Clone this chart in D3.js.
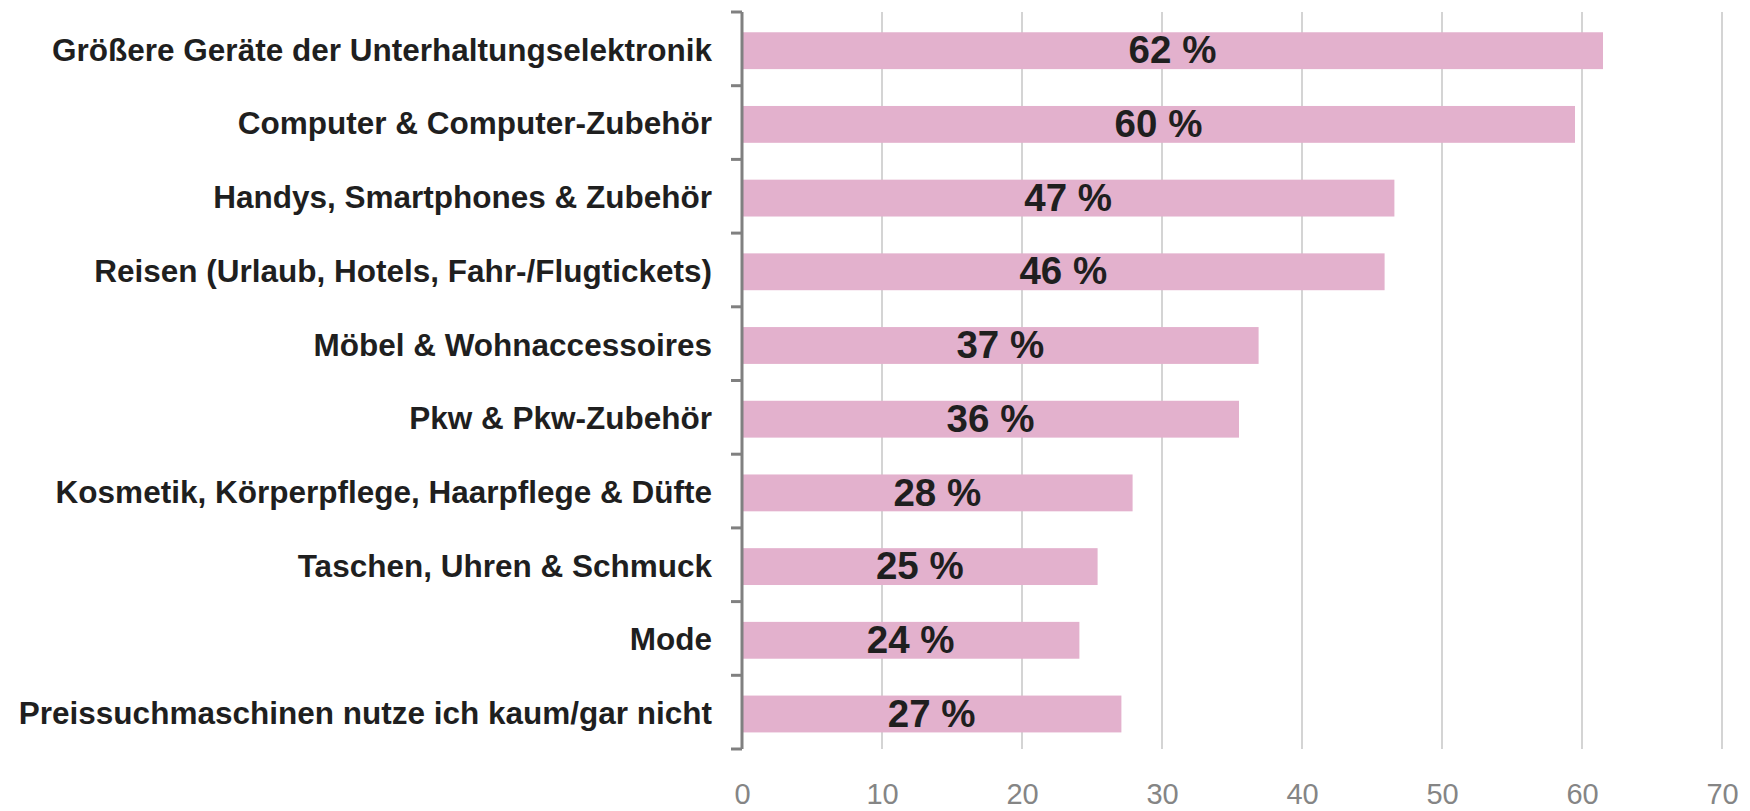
<!DOCTYPE html>
<html>
<head>
<meta charset="utf-8">
<script src="https://cdn.jsdelivr.net/npm/d3@7"></script>
<style>
  body { margin: 0; background: #fff; }
  #chart-container svg { display: block; }
</style>
</head>
<body>
<div id="chart-container"></div>
<script>
// Data
const categories = [
    'Größere Geräte der Unterhaltungselektronik',
    'Computer & Computer-Zubehör',
    'Handys, Smartphones & Zubehör',
    'Reisen (Urlaub, Hotels, Fahr-/Flugtickets)',
    'Möbel & Wohnaccessoires',
    'Pkw & Pkw-Zubehör',
    'Kosmetik, Körperpflege, Haarpflege & Düfte',
    'Taschen, Uhren & Schmuck',
    'Mode',
    'Preissuchmaschinen nutze ich kaum/gar nicht'
];
const values = [61.5, 59.5, 46.6, 45.9, 36.9, 35.5, 27.9, 25.4, 24.1, 27.1];
const valueLabels = ['62 %', '60 %', '47 %', '46 %', '37 %', '36 %', '28 %', '25 %', '24 %', '27 %'];
const xTicks = [0, 10, 20, 30, 40, 50, 60, 70];

const drawChart = () => {
    const width = 1750;
    const height = 811;

    // Margin conventions
    const margin = { top: 12, right: 28, bottom: 62, left: 742 };

    const data = categories.map((name, i) => ({ name, value: values[i], label: valueLabels[i] }));

    const x = d3.scaleLinear()
        .domain([0, 70])
        .range([margin.left, width - margin.right]);

    const y = d3.scaleBand()
        .domain(categories)
        .range([margin.top, height - margin.bottom])
        .paddingInner(0.5)
        .paddingOuter(0.25)
        .align(0.55);

    const svg = d3.select('#chart-container')
        .append('svg')
        .attr('width', width)
        .attr('height', height)
        .attr('font-family', 'Arial, "Liberation Sans", sans-serif');

    // vertical gridlines
    svg.append('g')
        .selectAll('line')
        .data(xTicks.filter(d => d > 0))
        .join('line')
        .attr('x1', d => x(d))
        .attr('x2', d => x(d))
        .attr('y1', margin.top)
        .attr('y2', height - margin.bottom)
        .attr('stroke', '#d4d4d4')
        .attr('stroke-width', 2);

    // x tick labels (no axis line)
    const xAxis = svg.append('g')
        .attr('transform', `translate(0,${height - margin.bottom})`)
        .call(d3.axisBottom(x).tickValues(xTicks).tickSize(0).tickPadding(34));
    xAxis.select('.domain').remove();
    xAxis.selectAll('text')
        .attr('font-size', 29)
        .attr('font-family', 'Arial, "Liberation Sans", sans-serif')
        .attr('fill', '#858585');

    // bars
    svg.append('g')
        .selectAll('rect')
        .data(data)
        .join('rect')
        .attr('x', x(0))
        .attr('y', d => y(d.name))
        .attr('width', d => x(d.value) - x(0))
        .attr('height', y.bandwidth())
        .attr('fill', '#e3b1cd');

    // value labels, centred on the bar
    svg.append('g')
        .attr('font-size', 38.5)
        .attr('font-weight', 'bold')
        .attr('fill', '#1f1f1f')
        .attr('text-anchor', 'middle')
        .selectAll('text')
        .data(data)
        .join('text')
        .attr('x', d => (x(0) + x(d.value)) / 2)
        .attr('y', d => y(d.name) + y.bandwidth() / 2)
        .attr('dy', '0.33em')
        .text(d => d.label);

    // category axis on the left
    const yAxis = svg.append('g')
        .attr('transform', `translate(${x(0)},0)`)
        .call(d3.axisLeft(y).tickSize(0).tickPadding(30));
    yAxis.select('.domain').remove();
    yAxis.selectAll('text')
        .attr('font-size', 31.5)
        .attr('font-weight', 'bold')
        .attr('font-family', 'Arial, "Liberation Sans", sans-serif')
        .attr('fill', '#1f1f1f');

    // axis line and ticks between categories
    const [y0, y1] = y.range();
    const bounds = d3.range(categories.length + 1).map(i => y0 + i * (y1 - y0) / categories.length);
    svg.append('line')
        .attr('x1', x(0))
        .attr('x2', x(0))
        .attr('y1', margin.top)
        .attr('y2', height - margin.bottom)
        .attr('stroke', '#808080')
        .attr('stroke-width', 3);
    svg.append('g')
        .selectAll('line')
        .data(bounds)
        .join('line')
        .attr('x1', x(0) - 11)
        .attr('x2', x(0))
        .attr('y1', d => d)
        .attr('y2', d => d)
        .attr('stroke', '#808080')
        .attr('stroke-width', 3);
};

drawChart();
</script>
</body>
</html>
